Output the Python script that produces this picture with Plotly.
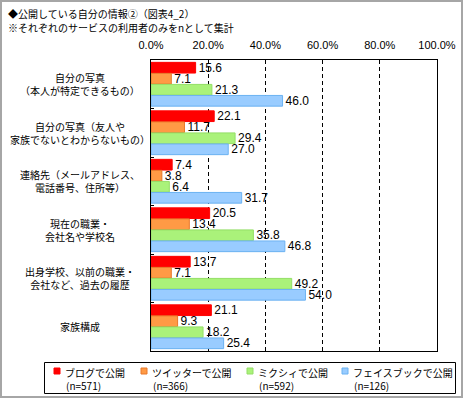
import plotly.graph_objects as go

# ---- data ----
categories = [
    "自分の写真<br>（本人が特定できるもの）",
    "自分の写真（友人や<br>家族でないとわからないもの）",
    "連絡先（メールアドレス、<br>電話番号、住所等）",
    "現在の職業・<br>会社名や学校名",
    "出身学校、以前の職業・<br>会社など、過去の履歴",
    "家族構成",
]
blog = [15.6, 22.1, 7.4, 20.5, 13.7, 21.1]
twitter = [7.1, 11.7, 3.8, 13.4, 7.1, 9.3]
mixi = [21.3, 29.4, 6.4, 35.8, 49.2, 18.2]
facebook = [46.0, 27.0, 31.7, 46.8, 54.0, 25.4]
series_names = ["ブログで公開", "ツイッターで公開", "ミクシィで公開", "フェイスブックで公開"]
series_n = ["(n=571)", "(n=366)", "(n=592)", "(n=126)"]
tick_values = [0, 20, 40, 60, 80, 100]
tick_labels = ["0.0%", "20.0%", "40.0%", "60.0%", "80.0%", "100.0%"]
title_lines = ["◆公開している自分の情報②（図表4_2）", "※それぞれのサービスの利用者のみをnとして集計"]

# ---- style ----
W, H = 463, 398
L, R, T, B = 151, 437, 60, 351
fills = ["#FF0000", "#FF9A45", "#AAF27A", "#99CCFF"]
edges = ["#FF0000", "#E8782A", "#94DE66", "#6BB2F2"]
JP = "Noto Sans CJK JP"
NUM = "Liberation Sans, Arial"


def px(x):
    return (x - L) / (R - L)


def py(y):
    return (B - y) / (B - T)


fig = go.Figure()
for vals, name, fc, ec in zip([blog, twitter, mixi, facebook], series_names, fills, edges):
    fig.add_trace(go.Bar(
        y=categories, x=vals, orientation="h", name=name,
        marker=dict(color=fc, line=dict(color=ec, width=1)),
        texttemplate="%{x:.1f}", textposition="outside", constraintext="none",
        cliponaxis=False, textfont=dict(family=NUM, size=12, color="#000"),
        showlegend=False,
    ))

annotations = []
for c in categories:
    annotations.append(dict(
        x=px(80), xref="paper", y=c, yref="y", text=c, showarrow=False,
        xanchor="center", yanchor="middle", align="center",
        font=dict(family=JP, size=10, color="#000"),
    ))
for i, line in enumerate(title_lines):
    annotations.append(dict(
        x=px(6), xref="paper", y=py(14 + 14 * i), yref="paper", text=line,
        showarrow=False, xanchor="left", yanchor="middle",
        font=dict(family=JP, size=10, color="#000"),
    ))

shapes = [
    dict(type="rect", xref="paper", yref="paper", x0=px(1), x1=px(462), y0=py(1), y1=py(397),
         line=dict(color="#A6A6A6", width=2), layer="below"),
    dict(type="rect", xref="paper", yref="paper", x0=px(44.5), x1=px(455.5), y0=py(362.5), y1=py(393.5),
         line=dict(color="#000", width=1)),
]
leg_x = [54, 141, 247, 342]
for lx, name, n, fc, ec in zip(leg_x, series_names, series_n, fills, edges):
    shapes.append(dict(type="rect", xref="paper", yref="paper", x0=px(lx), x1=px(lx + 6),
                       y0=py(374), y1=py(368), fillcolor=fc, line=dict(color=ec, width=1)))
    annotations.append(dict(
        x=px(lx + 9), xref="paper", y=py(372), yref="paper", text=name, showarrow=False,
        xanchor="left", yanchor="middle", font=dict(family=JP, size=10, color="#000"),
    ))
    annotations.append(dict(
        x=px(lx + 10), xref="paper", y=py(385), yref="paper", text=n, showarrow=False,
        xanchor="left", yanchor="middle", font=dict(family=JP, size=10, color="#000"),
    ))

fig.update_layout(
    width=W, height=H,
    margin=dict(l=L, r=W - R, t=T, b=H - B, autoexpand=False),
    paper_bgcolor="white", plot_bgcolor="white",
    barmode="group", bargap=0.09, bargroupgap=0.03,
    annotations=annotations, shapes=shapes,
    xaxis=dict(
        range=[0, 100], side="top", tickvals=tick_values, ticktext=tick_labels,
        showgrid=True, gridcolor="#000", gridwidth=1, griddash="4px,3px",
        showline=True, linecolor="#000", linewidth=1, mirror=True, zeroline=False,
        ticks="", ticklabelstandoff=6, tickfont=dict(family=NUM, size=11, color="#000"),
        fixedrange=True, automargin=False,
    ),
    yaxis=dict(
        type="category", autorange="reversed", showticklabels=False,
        showline=True, linecolor="#000", linewidth=1, mirror=True,
        ticks="inside", tickson="boundaries", ticklen=3, tickcolor="#000",
        showgrid=False, zeroline=False, fixedrange=True, automargin=False,
    ),
)

fig.write_html(
    "out.html",
    config={"displayModeBar": False},
    post_script="document.body.style.margin='0px';document.body.style.overflow='hidden';",
)
